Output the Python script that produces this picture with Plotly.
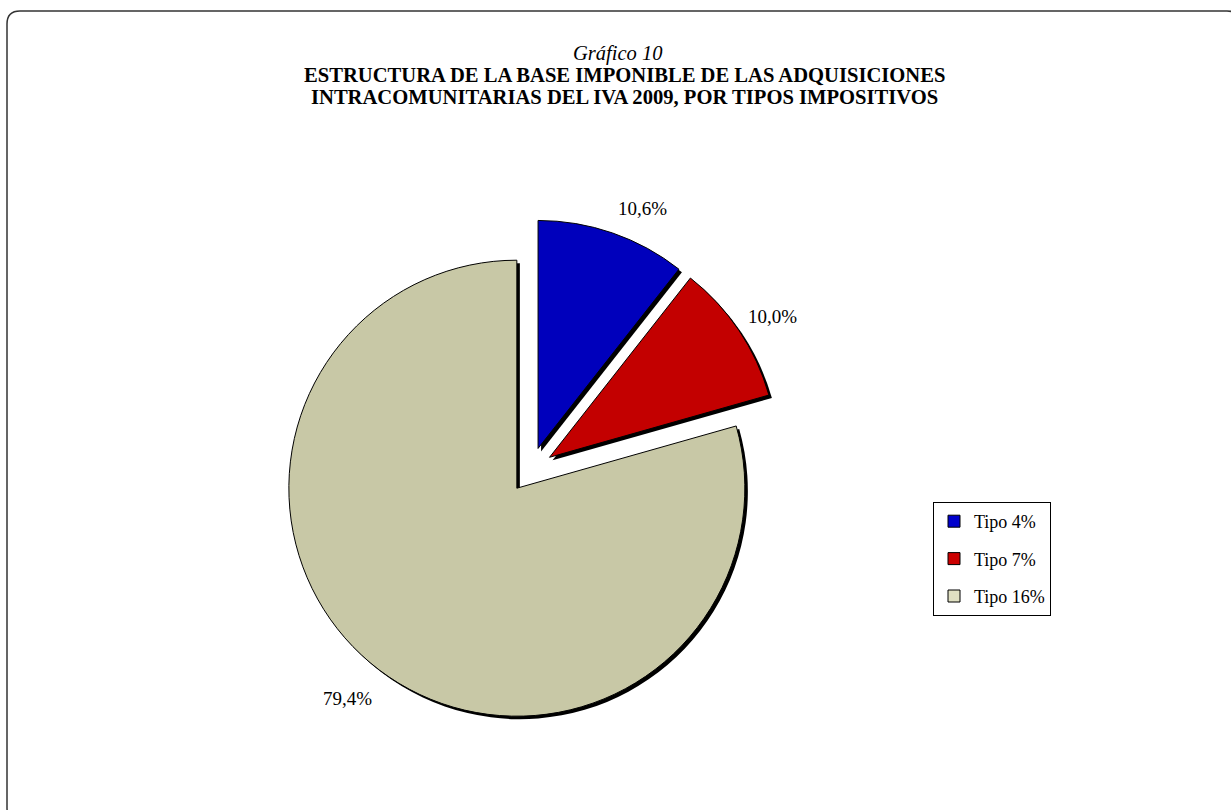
import plotly.graph_objects as go

# ---- data ----
categories = ["Tipo 4%", "Tipo 7%", "Tipo 16%"]
shares = [10.6, 10.0, 79.4]
share_labels = ["10,6%", "10,0%", "79,4%"]
title_top = "Gráfico 10"
title_lines = ["ESTRUCTURA DE LA BASE IMPONIBLE DE LAS ADQUISICIONES",
               "INTRACOMUNITARIAS DEL IVA 2009, POR TIPOS IMPOSITIVOS"]

# ---- styles ----
slice_colors = ["#0000BC", "#C30000", "#C8C8A6"]
legend_colors = ["#0000CC", "#CC0000", "#E0E0C2"]
FONT = "Liberation Serif, Times New Roman, serif"

W, H = 1231, 810


def fx(x):
    return x / W


def fy(y):
    return 1 - y / H


# pie geometry (pixels)
cx, cy = 530.6, 470.0
half = 250.8          # radius * (1 + pull)
pull = 0.1
sh = 3                # shadow offset

dom_x = [fx(cx - half), fx(cx + half)]
dom_y = [fy(cy + half), fy(cy - half)]
sdom_x = [fx(cx - half + sh), fx(cx + half + sh)]
sdom_y = [fy(cy + half + sh), fy(cy - half + sh)]

fig = go.Figure()

# shadow
fig.add_trace(go.Pie(
    labels=categories, values=shares, sort=False, direction="clockwise",
    rotation=0, pull=[pull] * len(shares), textinfo="none", hoverinfo="skip",
    marker=dict(colors=["#000000"] * len(shares), line=dict(width=0)),
    domain=dict(x=sdom_x, y=sdom_y), showlegend=False,
))
# main pie
fig.add_trace(go.Pie(
    labels=categories, values=shares, sort=False, direction="clockwise",
    rotation=0, pull=[pull] * len(shares), textinfo="none",
    marker=dict(colors=slice_colors, line=dict(color="#000000", width=1)),
    domain=dict(x=dom_x, y=dom_y), showlegend=False,
))

# legend entries
for cat, col in zip(categories, legend_colors):
    fig.add_trace(go.Scatter(
        x=[None], y=[None], mode="markers", name=cat, legendgroup=cat,
        marker=dict(symbol="square", size=12, color=col,
                    line=dict(color="#000000", width=1)),
        showlegend=True,
    ))

# percentage labels
label_pos = [(642, 209), (772, 316), (347, 698)]
annotations = []
for txt, (x, y) in zip(share_labels, label_pos):
    annotations.append(dict(x=fx(x), y=fy(y), xref="paper", yref="paper",
                            text=txt, showarrow=False, xanchor="center",
                            yanchor="middle",
                            font=dict(family=FONT, size=19, color="#000000")))

# title
annotations.append(dict(x=fx(617), y=fy(54), xref="paper", yref="paper",
                        text="<i>" + title_top + "</i>", showarrow=False,
                        xanchor="center", yanchor="middle",
                        font=dict(family=FONT, size=20.5, color="#000000")))
for txt, y in zip(title_lines, [75, 97]):
    annotations.append(dict(x=fx(624), y=fy(y), xref="paper", yref="paper",
                            text="<b>" + txt + "</b>", showarrow=False,
                            xanchor="center", yanchor="middle",
                            font=dict(family=FONT, size=20.6, color="#000000")))

# rounded outer border (pixel coords converted to paper)
x0, y0, x1, y1, r = 7, 11, 1240, 821, 13
path = (f"M {fx(x0)},{fy(y0 + r)} "
        f"Q {fx(x0)},{fy(y0)} {fx(x0 + r)},{fy(y0)} "
        f"L {fx(x1 - r)},{fy(y0)} "
        f"Q {fx(x1)},{fy(y0)} {fx(x1)},{fy(y0 + r)} "
        f"L {fx(x1)},{fy(y1 - r)} "
        f"Q {fx(x1)},{fy(y1)} {fx(x1 - r)},{fy(y1)} "
        f"L {fx(x0 + r)},{fy(y1)} "
        f"Q {fx(x0)},{fy(y1)} {fx(x0)},{fy(y1 - r)} Z")

fig.update_layout(
    width=W, height=H,
    margin=dict(l=0, r=0, t=0, b=0),
    paper_bgcolor="white", plot_bgcolor="white",
    xaxis=dict(visible=False, range=[0, 1]),
    yaxis=dict(visible=False, range=[0, 1]),
    annotations=annotations,
    shapes=[dict(type="path", path=path, xref="paper", yref="paper",
                 line=dict(color="#333333", width=1.5), layer="below")],
    legend=dict(x=fx(933), y=fy(502), xanchor="left", yanchor="top",
                bordercolor="#000000", borderwidth=1, bgcolor="white",
                font=dict(family=FONT, size=18, color="#000000"),
                tracegroupgap=11, itemwidth=30),
    showlegend=True,
    hovermode=False,
)

fig.write_html("out.html",
               config={"displayModeBar": False},
               post_script="document.body.style.margin='0px';"
                           "document.body.style.overflow='hidden';")
